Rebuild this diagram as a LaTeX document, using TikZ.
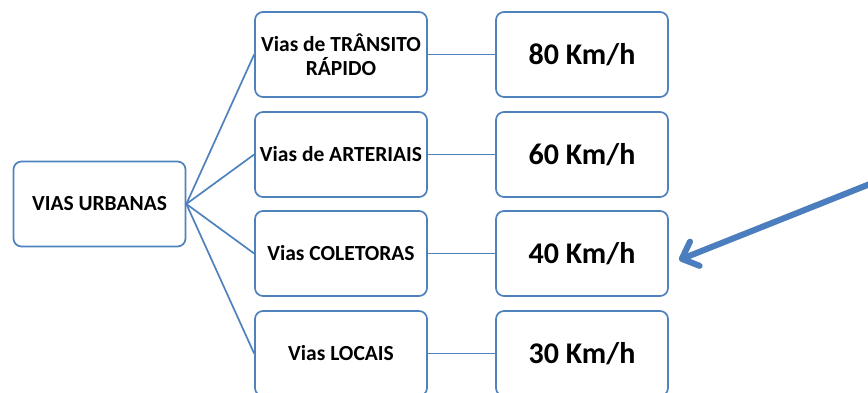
\documentclass[tikz,border=0pt]{standalone}
\usepackage{fontspec}
\setmainfont{Carlito}
\usetikzlibrary{arrows.meta,positioning}
\definecolor{boxblue}{RGB}{79,129,189}
\definecolor{arrowblue}{RGB}{74,126,190}

\tikzset{
  viabox/.style={draw=boxblue, line width=1.7pt, rounded corners=8pt,
    minimum width=172pt, minimum height=85pt, align=center, inner sep=2pt,
    font=\bfseries\fontsize{21.5}{24}\selectfont},
  speedbox/.style={viabox, font=\bfseries\fontsize{30}{34}\selectfont},
  link/.style={draw=boxblue, line width=1.7pt},
}

\begin{document}
\begin{tikzpicture}[x=1pt,y=-1pt]
    \useasboundingbox (0,0) rectangle (868,393);

    % main box
    \node[viabox] (urb) at (99.5,204) {VIAS URBANAS};

    % road types and speeds
    \foreach \i/\txt/\vel/\y in {1/{Vias de TRÂNSITO\\RÁPIDO}/80/54.5,
                                 2/{Vias de ARTERIAIS}/60/154.5,
                                 3/{Vias COLETORAS}/40/253.5,
                                 4/{Vias LOCAIS}/30/353.5}
    {
      \node[viabox] (via\i) at (341,\y) {\txt};
      \node[speedbox] (vel\i) at (582,\y) {\vel\ Km/h};
      \draw[link] (urb.east) -- (via\i.west);
      \draw[link] (via\i) -- (vel\i);
    }

    % pointer arrow
    \coordinate (aStart) at (880,180);
    \coordinate (aTip) at (679,260);
    \draw[line width=6pt, black!40, opacity=0.35, shift={(2,4)},
          -{Straight Barb[round,length=14pt,width=26pt]}] (aStart) -- (aTip);
    \draw[line width=6pt, arrowblue,
          -{Straight Barb[round,length=14pt,width=26pt]}] (aStart) -- (aTip);
\end{tikzpicture}
\end{document}
